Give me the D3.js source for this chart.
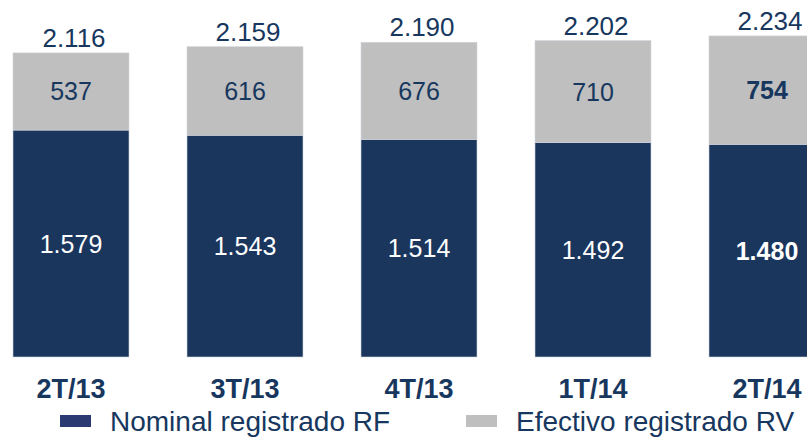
<!DOCTYPE html>
<html>
<head>
<meta charset="utf-8">
<script src="https://cdn.jsdelivr.net/npm/d3@7/dist/d3.min.js"></script>
<style>
  body { margin: 0; background: #fff; }
  svg { display: block; font-family: "Liberation Sans", Arial, sans-serif; }
</style>
</head>
<body>
<div id="chart"></div>
<script>
const categories = ["2T/13", "3T/13", "4T/13", "1T/14", "2T/14"];
const nominalRF = [1579, 1543, 1514, 1492, 1480];
const efectivoRV = [537, 616, 676, 710, 754];
const seriesNames = ["Nominal registrado RF", "Efectivo registrado RV"];

const width = 807, height = 438;
const navy = "#1b365d", grey = "#bfbfbf", textNavy = "#17375e";

const locale = d3.formatLocale({ decimal: ",", thousands: ".", grouping: [3], currency: ["", ""] });
const fmt = locale.format(",d");

const rows = categories.map((c, i) => ({ cat: c, rf: nominalRF[i], rv: efectivoRV[i], total: nominalRF[i] + efectivoRV[i] }));
const stacked = d3.stack().keys(["rf", "rv"])(rows);

const svg = d3.select("#chart").append("svg")
  .attr("width", width)
  .attr("height", height);

const x = d3.scaleBand()
  .domain(categories)
  .range([13, 825])
  .paddingInner(1 / 3)
  .paddingOuter(0);

const y = d3.scaleLinear()
  .domain([0, 2484])
  .range([357, 0]);

const last = categories[categories.length - 1];

// bars
const layers = svg.selectAll("g.layer")
  .data(stacked)
  .join("g")
  .attr("class", "layer")
  .attr("fill", (d) => (d.key === "rf" ? navy : grey));

layers.selectAll("rect")
  .data((d) => d)
  .join("rect")
  .attr("x", (d) => x(d.data.cat))
  .attr("y", (d) => y(d[1]))
  .attr("width", x.bandwidth())
  .attr("height", (d) => y(d[0]) - y(d[1]))
  .attr("stroke", "#d0d5dc")
  .attr("stroke-width", 0.6);

// segment labels
layers.selectAll("text")
  .data((d) => d.map((v) => ({ v, key: d.key })))
  .join("text")
  .attr("x", (d) => x(d.v.data.cat) + x.bandwidth() / 2)
  .attr("y", (d) => (y(d.v[0]) + y(d.v[1])) / 2)
  .attr("dy", "0.36em")
  .attr("text-anchor", "middle")
  .attr("font-size", 25)
  .attr("font-weight", (d) => (d.v.data.cat === last ? "bold" : "normal"))
  .attr("fill", (d) => (d.key === "rf" ? "#ffffff" : textNavy))
  .text((d) => fmt(d.v.data[d.key]));

// totals
svg.append("g")
  .selectAll("text")
  .data(rows)
  .join("text")
  .attr("x", (d) => x(d.cat) + x.bandwidth() / 2 + 3)
  .attr("y", (d) => y(d.total) - 6)
  .attr("text-anchor", "middle")
  .attr("font-size", 26)
  .attr("fill", textNavy)
  .text((d) => fmt(d.total));

// category labels
svg.append("g")
  .selectAll("text")
  .data(categories)
  .join("text")
  .attr("x", (d) => x(d) + x.bandwidth() / 2)
  .attr("y", 398)
  .attr("text-anchor", "middle")
  .attr("font-size", 27)
  .attr("font-weight", "bold")
  .attr("fill", textNavy)
  .text((d) => d);

// legend
const legend = svg.append("g")
  .selectAll("g")
  .data(seriesNames)
  .join("g")
  .attr("transform", (d, i) => `translate(${i === 0 ? 60 : 466},0)`);

legend.append("rect")
  .attr("y", 415)
  .attr("width", 31)
  .attr("height", 12)
  .attr("fill", (d, i) => (i === 0 ? "#2b3a70" : grey));

legend.append("text")
  .attr("x", 50)
  .attr("y", 431)
  .attr("font-size", 28)
  .attr("fill", textNavy)
  .text((d) => d);
</script>
</body>
</html>
